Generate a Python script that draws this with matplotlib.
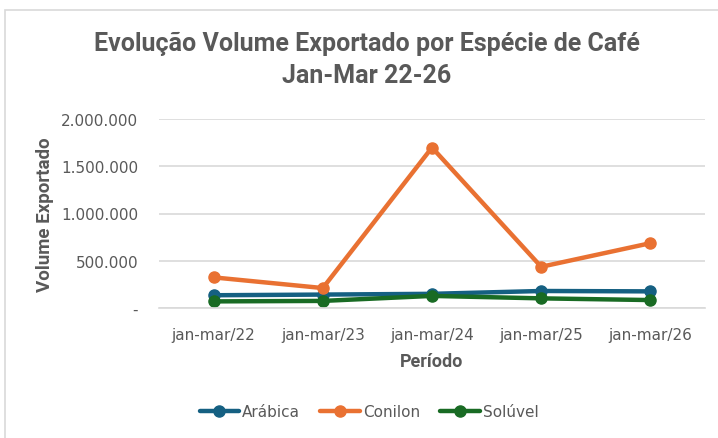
import matplotlib
matplotlib.use("Agg")
import matplotlib.pyplot as plt
import matplotlib.patches as mpatches
from matplotlib.ticker import FuncFormatter

periodos = ["jan-mar/22", "jan-mar/23", "jan-mar/24", "jan-mar/25", "jan-mar/26"]
arabica = [135000, 142000, 150000, 180000, 176000]
conilon = [324000, 211000, 1698000, 436000, 686000]
soluvel = [70000, 75000, 128000, 102000, 84000]

series = [("Arábica", arabica, "#156082"),
          ("Conilon", conilon, "#E97132"),
          ("Solúvel", soluvel, "#196B24")]

cinza = "#595959"
fonte = ["DejaVu Sans"]
fonte_titulo = ["Roboto", "DejaVu Sans"]

fig = plt.figure(figsize=(7.18, 4.39), dpi=100)
ax = fig.add_axes([159/718, 1 - 309/439, 546/718, 189/439])

# moldura do gráfico
fig.patches.append(mpatches.Rectangle((5/718, -0.05), 1.2, 1 - 10.5/439 + 0.05,
                                      transform=fig.transFigure, fill=False,
                                      edgecolor="#D9D9D9", linewidth=1.2))

x = range(len(periodos))
for nome, vals, cor in series:
    ax.plot(x, vals, color=cor, linewidth=3.2, marker="o", markersize=8,
            label=nome, solid_capstyle="round")

ax.set_xlim(-0.5, len(periodos) - 0.5)
ax.set_ylim(0, 2000000)
ax.set_yticks([0, 500000, 1000000, 1500000, 2000000])

def fmt(v, pos):
    if v == 0:
        return "-"
    return f"{int(v):,}".replace(",", ".")

ax.yaxis.set_major_formatter(FuncFormatter(fmt))
ax.set_xticks(list(x))
ax.set_xticklabels(periodos)

ax.grid(axis="y", color="#D9D9D9", linewidth=1.2)
ax.set_axisbelow(True)
for s in ["top", "right", "left"]:
    ax.spines[s].set_visible(False)
ax.spines["bottom"].set_color("#D9D9D9")
ax.spines["bottom"].set_linewidth(1.2)
ax.tick_params(axis="both", length=0, colors=cinza, labelsize=11)
ax.tick_params(axis="y", pad=15)
ax.tick_params(axis="x", pad=14)

ax.set_xlabel("Período", fontsize=13, fontweight="bold", color=cinza,
              family=fonte_titulo)
ax.set_ylabel("Volume Exportado", fontsize=13.5, fontweight="bold", color=cinza,
              family=fonte_titulo)
ax.xaxis.set_label_coords(0.5, -(362 - 309) / 189)
ax.yaxis.set_label_coords((45 - 159) / 546, 0.5)
ax.xaxis.label.set_va("center")
ax.yaxis.label.set_va("center")

fig.text(367/718, 1 - 44/439, "Evolução Volume Exportado por Espécie de Café",
         ha="center", va="center", fontsize=18, fontweight="bold",
         color=cinza, family=fonte_titulo)
fig.text(367/718, 1 - 76/439, "Jan-Mar 22-26", ha="center", va="center",
         fontsize=18, fontweight="bold", color=cinza, family=fonte_titulo)

leg = fig.legend(loc="center", bbox_to_anchor=(369/718, 1 - 413/439), ncol=3,
                 frameon=False, handlelength=2.6,
                 columnspacing=1.3, handletextpad=0.2,
                 prop={"family": fonte, "size": 11})
for t in leg.get_texts():
    t.set_color(cinza)

fig.savefig("out.png", dpi=100)
